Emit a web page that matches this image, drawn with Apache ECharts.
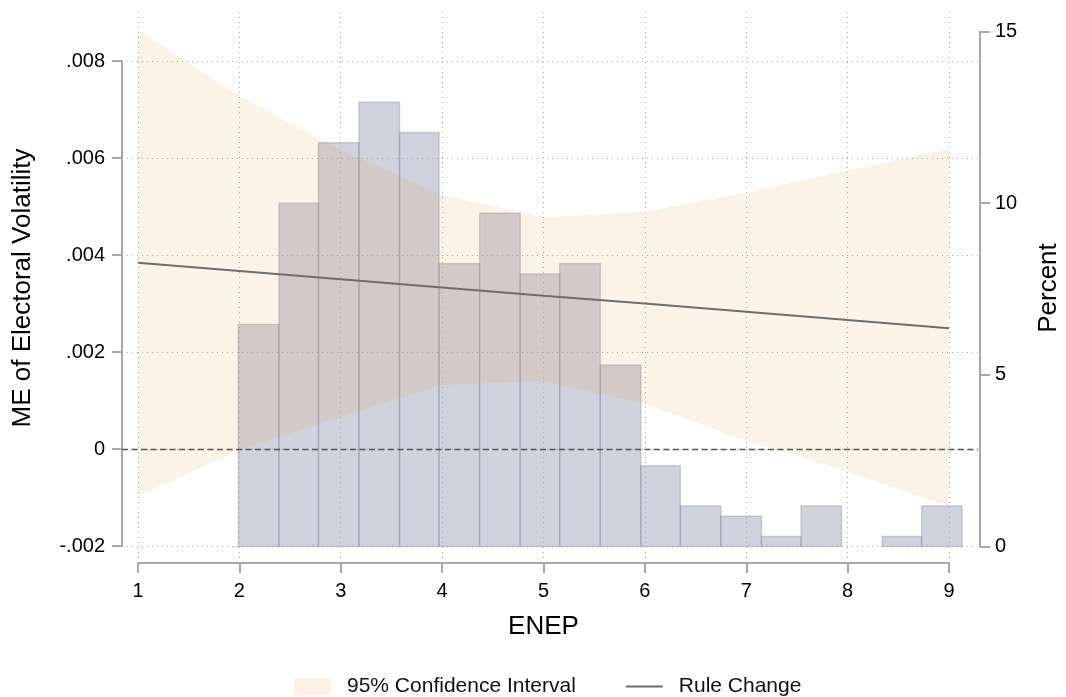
<!DOCTYPE html>
<html><head><meta charset="utf-8">
<script src="https://cdn.jsdelivr.net/npm/echarts@6/dist/echarts.min.js"></script>
<style>html,body{margin:0;padding:0;background:#fff}#chart{width:1066px;height:697px}</style>
</head><body><div id="chart"></div>
<script>
// ---- data ----
const xTicks = [1, 2, 3, 4, 5, 6, 7, 8, 9];
const leftTicks = [-0.002, 0, 0.002, 0.004, 0.006, 0.008];
const leftTickLabels = ['-.002', '0', '.002', '.004', '.006', '.008'];
const rightTicks = [0, 5, 10, 15];
const enep = [1, 2, 3, 4, 5, 6, 7, 8, 9];
const ciUpper = [0.00864, 0.00728, 0.00617, 0.00524, 0.00478, 0.00489, 0.00529, 0.00574, 0.00618];
const ciLower = [-0.00098, -0.00002, 0.00067, 0.00132, 0.00140, 0.00093, 0.00017, -0.00047, -0.00118];
const ruleChange = [0.00384, 0.00367, 0.00350, 0.00333, 0.00316, 0.00300, 0.00283, 0.00266, 0.00249];
const binEdges = [1.99, 2.39, 2.78, 3.18, 3.58, 3.97, 4.37, 4.77, 5.16, 5.56, 5.96, 6.35, 6.75, 7.15, 7.54, 7.94, 8.34, 8.73, 9.13];
const binPercent = [6.47, 10.0, 11.76, 12.94, 12.06, 8.24, 9.71, 7.94, 8.24, 5.29, 2.35, 1.18, 0.88, 0.29, 1.18, 0, 0.29, 1.18];

const FONT = "'Liberation Sans', Arial, Helvetica, sans-serif";
const AXIS_GRAY = '#a8a8a8';
const GRID_LINE = {type: [1, 4], color: '#a9a9a9', width: 1};
const chart = echarts.init(document.getElementById('chart'), null, {renderer: 'canvas'});

function visibleAxis(extra) {
  return Object.assign({
    axisLine: {show: true, onZero: false, lineStyle: {color: AXIS_GRAY, width: 2}},
    axisTick: {show: true, inside: false, length: 10, lineStyle: {color: AXIS_GRAY, width: 2}},
    splitLine: {show: false}
  }, extra);
}

function markLineSeries(name, items, lineStyle, z) {
  return {
    name: name, type: 'line', xAxisIndex: 0, yAxisIndex: 0, data: [[xTicks[0], leftTicks[1]]],
    symbol: 'none', lineStyle: {width: 0}, silent: true, z: z,
    markLine: {silent: true, symbol: ['none', 'none'], z: z, precision: 8, label: {show: false}, animation: false,
      lineStyle: lineStyle, data: items}
  };
}

const option = {
  animation: false,
  backgroundColor: '#fff',
  textStyle: {fontFamily: FONT},
  grid: [
    {left: 122, right: 88, top: 12, bottom: 134},      // 0: ME data region
    {left: 122, right: 88, top: 12, bottom: 134},      // 1: histogram region
    {left: 138, right: 117, top: 400, bottom: 134},    // 2: visible x axis
    {left: 122, right: 866, top: 61, bottom: 151},     // 3: visible left axis
    {left: 900, right: 86, top: 31.5, bottom: 150.5}   // 4: visible right axis
  ],
  xAxis: [
    {gridIndex: 0, type: 'value', min: 0.84217, max: 9.2861, show: false},
    {gridIndex: 1, type: 'value', min: 0.84217, max: 9.2861, show: false},
    visibleAxis({gridIndex: 2, type: 'value', min: xTicks[0], max: xTicks[xTicks.length - 1], interval: 1, position: 'bottom',
      axisLabel: {color: '#000', fontSize: 20, fontFamily: FONT, margin: 18},
      name: 'ENEP', nameLocation: 'middle', nameGap: 51,
      nameTextStyle: {color: '#000', fontSize: 26, fontFamily: FONT}}),
    {gridIndex: 3, type: 'value', show: false},
    {gridIndex: 4, type: 'value', show: false}
  ],
  yAxis: [
    {gridIndex: 0, type: 'value', min: -0.0023505, max: 0.0090103, show: false},
    {gridIndex: 1, type: 'value', min: -0.4806, max: 15.568, show: false},
    {gridIndex: 2, type: 'value', show: false},
    visibleAxis({gridIndex: 3, type: 'value', min: leftTicks[0], max: leftTicks[leftTicks.length - 1], interval: 0.002,
      position: 'left',
      axisLabel: {color: '#000', fontSize: 20, fontFamily: FONT, margin: 17,
        formatter: (v, i) => leftTickLabels[i]}}),
    visibleAxis({gridIndex: 4, type: 'value', min: rightTicks[0], max: rightTicks[rightTicks.length - 1], interval: 5,
      position: 'right',
      axisLabel: {color: '#000', fontSize: 20, fontFamily: FONT, margin: 15}})
  ],
  legend: {
    left: 294, top: 676, padding: 0, itemWidth: 37, itemHeight: 17, itemGap: 49, selectedMode: false,
    textStyle: {fontSize: 21, color: '#111', fontFamily: FONT, padding: [0, 0, 0, 11]},
    data: [
      {name: '95% Confidence Interval', icon: 'rect'},
      {name: 'Rule Change', itemStyle: {opacity: 0}}
    ]
  },
  graphic: [
    {type: 'text', x: 23, y: 288, rotation: Math.PI / 2, silent: true,
      style: {text: 'ME of Electoral Volatility', fontSize: 26, fontFamily: FONT, fill: '#000',
        textAlign: 'center', textVerticalAlign: 'middle', align: 'center', verticalAlign: 'middle'}},
    {type: 'text', x: 1049, y: 288, rotation: Math.PI / 2, silent: true,
      style: {text: 'Percent', fontSize: 26, fontFamily: FONT, fill: '#000',
        textAlign: 'center', textVerticalAlign: 'middle', align: 'center', verticalAlign: 'middle'}}
  ],
  series: [
    markLineSeries('vgrid', xTicks.map(v => ({xAxis: v})), GRID_LINE, 1),
    markLineSeries('hgrid', leftTicks.map(v => ({yAxis: v})), GRID_LINE, 1),
    { // histogram (percent, right axis)
      name: 'Histogram', type: 'custom', xAxisIndex: 1, yAxisIndex: 1, z: 2, silent: true,
      data: binPercent.map((p, i) => [binEdges[i], binEdges[i + 1], p]),
      encode: {x: [0, 1], y: 2},
      renderItem: function (params, api) {
        const p = api.value(2);
        if (!(p > 0)) return null;
        const a = api.coord([api.value(0), 0]);
        const b = api.coord([api.value(1), p]);
        return {type: 'rect', shape: {x: a[0], y: b[1], width: b[0] - a[0], height: a[1] - b[1]},
          style: {fill: 'rgba(150,158,180,0.45)', stroke: 'rgba(125,132,155,0.35)', lineWidth: 1.4}};
      }
    },
    { // confidence band
      name: '95% Confidence Interval', type: 'custom', xAxisIndex: 0, yAxisIndex: 0, z: 3, silent: true,
      itemStyle: {color: 'rgba(232,125,30,0.1)'},
      data: enep.map((x, i) => [x, ciLower[i], ciUpper[i]]),
      encode: {x: 0, y: [1, 2]},
      renderItem: function (params, api) {
        if (params.dataIndex !== 0) return null;
        const pts = [];
        for (let i = 0; i < enep.length; i++) pts.push(api.coord([enep[i], ciUpper[i]]));
        for (let i = enep.length - 1; i >= 0; i--) pts.push(api.coord([enep[i], ciLower[i]]));
        return {type: 'polygon', shape: {points: pts}, style: {fill: 'rgba(232,125,30,0.1)'}};
      }
    },
    {
      name: 'Rule Change', type: 'line', xAxisIndex: 0, yAxisIndex: 0, z: 4, silent: true,
      data: enep.map((x, i) => [x, ruleChange[i]]),
      symbol: 'none', lineStyle: {color: '#6e6e6e', width: 2}, itemStyle: {color: '#6e6e6e'}
    },
    markLineSeries('zero', [{yAxis: leftTicks[1]}], {type: [6, 3.5], color: '#555', width: 1.4}, 10)
  ]
};
chart.setOption(option);
</script>
</body></html>
